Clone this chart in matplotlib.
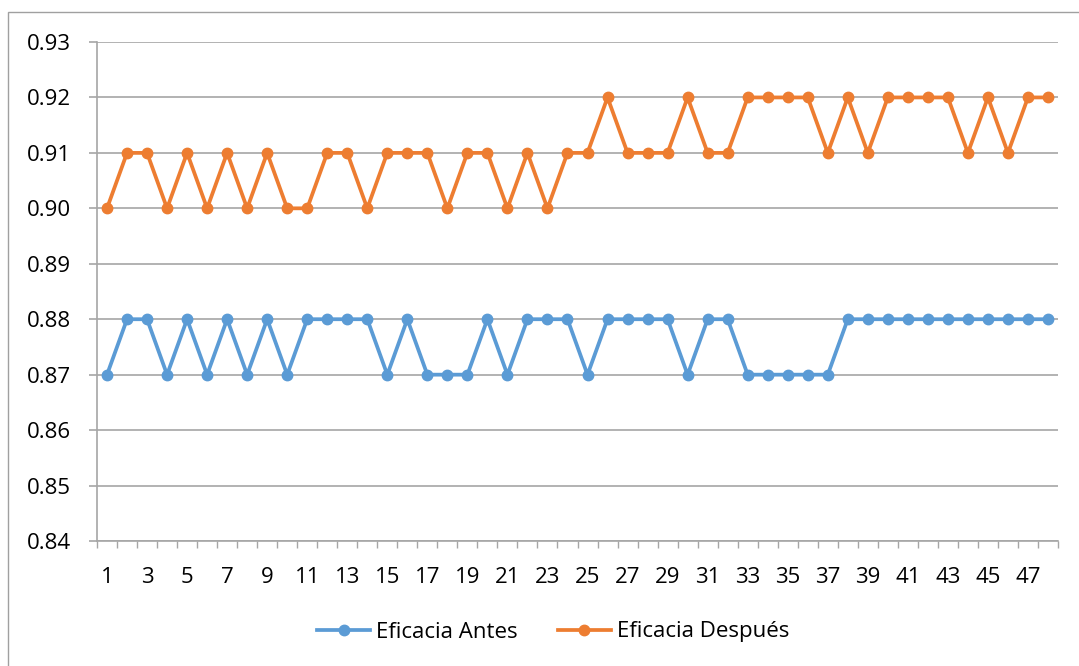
import matplotlib.pyplot as plt
from matplotlib.patches import Rectangle

# Eficacia por observación, antes y después
muestras = list(range(1, 49))
eficacia_antes = [0.87, 0.88, 0.88, 0.87, 0.88, 0.87, 0.88, 0.87, 0.88, 0.87,
                  0.88, 0.88, 0.88, 0.88, 0.87, 0.88, 0.87, 0.87, 0.87, 0.88,
                  0.87, 0.88, 0.88, 0.88, 0.87, 0.88, 0.88, 0.88, 0.88, 0.87,
                  0.88, 0.88, 0.87, 0.87, 0.87, 0.87, 0.87, 0.88, 0.88, 0.88,
                  0.88, 0.88, 0.88, 0.88, 0.88, 0.88, 0.88, 0.88]
eficacia_despues = [0.90, 0.91, 0.91, 0.90, 0.91, 0.90, 0.91, 0.90, 0.91, 0.90,
                    0.90, 0.91, 0.91, 0.90, 0.91, 0.91, 0.91, 0.90, 0.91, 0.91,
                    0.90, 0.91, 0.90, 0.91, 0.91, 0.92, 0.91, 0.91, 0.91, 0.92,
                    0.91, 0.91, 0.92, 0.92, 0.92, 0.92, 0.91, 0.92, 0.91, 0.92,
                    0.92, 0.92, 0.92, 0.91, 0.92, 0.91, 0.92, 0.92]
y_ticks = [0.84, 0.85, 0.86, 0.87, 0.88, 0.89, 0.90, 0.91, 0.92, 0.93]

plt.rcParams['font.family'] = ['Open Sans', 'DejaVu Sans']
FS = 16

W, H = 1079, 666
fig = plt.figure(figsize=(W / 100, H / 100), dpi=100)
ax = fig.add_axes([97 / W, 1 - 541 / H, (1058 - 97) / W, (541 - 42) / H])

# chart area border (left and top edges only show)
fig.patches.append(Rectangle((8 / W, -0.1), 1.2, 1.1 - 12 / H, transform=fig.transFigure,
                             fill=False, edgecolor='#a0a0a0', linewidth=1.0, zorder=0))

ax.plot(muestras, eficacia_antes, color='#5B9BD5', linewidth=2.7, marker='o',
        markersize=7.5, label='Eficacia Antes', zorder=3)
ax.plot(muestras, eficacia_despues, color='#ED7D31', linewidth=2.7, marker='o',
        markersize=7.5, label='Eficacia Después', zorder=3)

ax.set_xlim(0.5, 48.5)
ax.set_ylim(0.84, 0.93)
ax.set_yticks(y_ticks)
ax.set_yticklabels([f'{v:.2f}' for v in y_ticks])
ax.set_xticks(muestras[::2])
ax.set_xticks([m - 0.5 for m in muestras] + [48.5], minor=True)

ax.grid(axis='y', color='#a6a6a6', linewidth=1.2, zorder=0)
for side in ['top', 'right']:
    ax.spines[side].set_visible(False)
ax.spines['left'].set_color('#a6a6a6')
ax.spines['bottom'].set_color('#a6a6a6')
ax.spines['left'].set_linewidth(1.2)
ax.spines['bottom'].set_linewidth(1.2)

ax.tick_params(axis='y', which='major', length=5.8, color='#a6a6a6', width=1.2,
               labelsize=FS, pad=13)
ax.tick_params(axis='x', which='major', length=0, labelsize=FS, pad=18.5)
ax.tick_params(axis='x', which='minor', length=5, color='#a6a6a6', width=1.0,
               direction='out')

fig.legend(loc='center', bbox_to_anchor=(553 / W, 1 - 632 / H), ncol=2, frameon=False,
           fontsize=FS, handlelength=2.4, columnspacing=1.8, handletextpad=0.25)

fig.savefig('out.png', dpi=100)
